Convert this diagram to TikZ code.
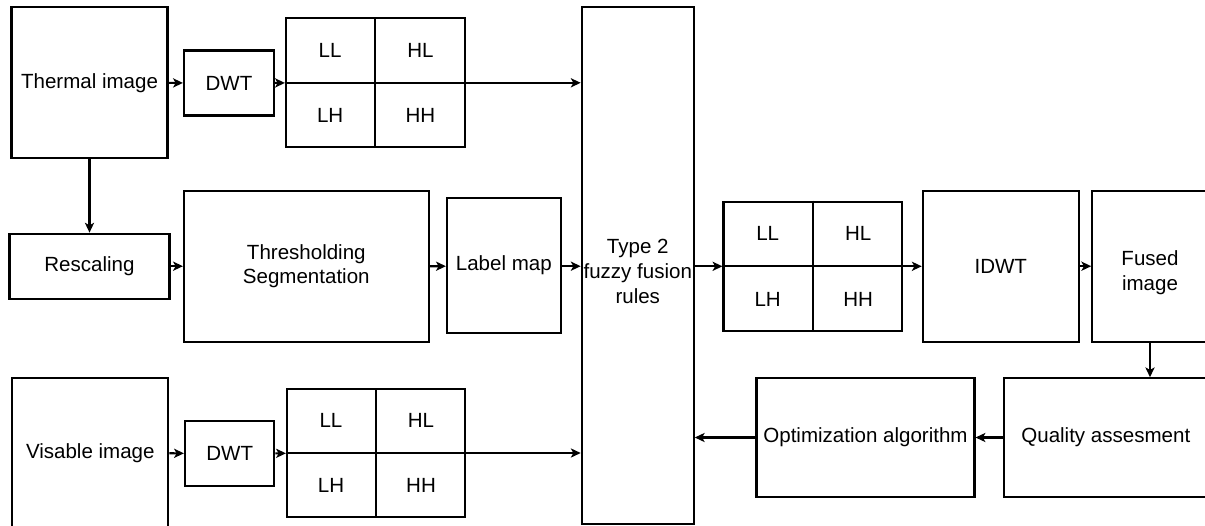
\documentclass[tikz,border=0pt]{standalone}
\usepackage{fontspec}
\setmainfont{Liberation Sans}
\usetikzlibrary{arrows.meta,calc}
\newdimen\pxu \pxu=0.025cm
\begin{document}
\begin{tikzpicture}[x=0.025cm,y=-0.025cm,
  box/.style={draw,line width=1.5pt,inner sep=0pt,align=center,font=\fontsize{14.6}{17.4}\selectfont},
  txt/.style={inner sep=0pt,align=center,font=\fontsize{14.6}{17.6}\selectfont},
  cell/.style={inner sep=0pt,font=\fontsize{14.6}{17.4}\selectfont},
  ln/.style={line width=1.5pt},
  arr/.style={line width=1.5pt,-{Stealth[length=7pt,width=6.5pt,inset=1.8pt]}}]
\useasboundingbox (0,0) rectangle (1205,526);

% row 1
\node[box,minimum width=156\pxu,minimum height=151\pxu] (thermal) at (89.5,82.8) {Thermal image};
\node[box,minimum width=90\pxu,minimum height=65\pxu] (dwta) at (229,83) {DWT};
\node[box,minimum width=178.6\pxu,minimum height=129\pxu] (grida) at (375.3,82.8) {};

% row 2
\node[box,minimum width=160\pxu,minimum height=65\pxu] (rescale) at (89.5,266.2) {Rescaling};
\node[box,minimum width=244.6\pxu,minimum height=150.5\pxu] (thresh) at (306.3,266.4) {Thresholding\\Segmentation};
\node[box,minimum width=113.7\pxu,minimum height=135.6\pxu] (labelmap) at (503.8,265.5) {Label map};
\node[box,minimum width=112\pxu,minimum height=516.7\pxu] (fuzzy) at (637.75,265.65) {};
\node[txt] (fuzzytext) at ($(fuzzy.center)+(0,6)$) {Type 2\\fuzzy fusion\\rules};
\node[box,minimum width=178.8\pxu,minimum height=129.3\pxu] (gridc) at (812.9,266.3) {};
\node[box,minimum width=156\pxu,minimum height=151\pxu] (idwt) at (1000.8,266.2) {IDWT};
\node[box,minimum width=115.4\pxu,minimum height=151\pxu] (fused) at (1150,266.2) {};
\node[txt] (fusedtext) at ($(fused.center)+(0,6.5)$) {Fused\\image};

% row 3
\node[box,minimum width=156\pxu,minimum height=149.4\pxu] (visable) at (90.3,453) {Visable image};
\node[box,minimum width=89.4\pxu,minimum height=65\pxu] (dwtb) at (229.7,453.5) {DWT};
\node[box,minimum width=178\pxu,minimum height=127.4\pxu] (gridb) at (376,453) {};
\node[box,minimum width=218\pxu,minimum height=118.4\pxu] (opt) at (865.5,437.5) {Optimization algorithm};
\node[box,minimum width=203.6\pxu,minimum height=118.4\pxu] (quality) at (1105.8,437.5) {Quality assesment};

% grid internals
\foreach \g in {grida,gridb,gridc}{
  \draw[ln] (\g.north) -- (\g.south);
  \draw[ln] (\g.west) -- (\g.east);
  \node[cell] (\g-ll) at ($(\g.center)!0.5!(\g.north west)$) {LL};
  \node[cell] (\g-hl) at ($(\g.center)!0.5!(\g.north east)$) {HL};
  \node[cell] (\g-lh) at ($(\g.center)!0.5!(\g.south west)$) {LH};
  \node[cell] (\g-hh) at ($(\g.center)!0.5!(\g.south east)$) {HH};
}

% connectors
\draw[arr] (thermal) -- (dwta);
\draw[arr] (dwta) -- (grida);
\draw[arr] (grida.east) -- (grida.east -| fuzzy.west);
\draw[arr] (thermal) -- (rescale);
\draw[arr] (rescale) -- (rescale.east -| thresh.west);
\draw[arr] (thresh) -- (thresh.east |- rescale.east -| labelmap.west);
\draw[arr] (labelmap.east |- rescale.east) -- (rescale.east -| fuzzy.west);
\draw[arr] (visable) -- (dwtb);
\draw[arr] (dwtb) -- (gridb);
\draw[arr] (gridb.east) -- (gridb.east -| fuzzy.west);
\draw[arr] (fuzzy.east |- gridc.west) -- (gridc.west);
\draw[arr] (gridc.east) -- (gridc.east -| idwt.west);
\draw[arr] (idwt) -- (fused);
\draw[arr] (fused) -- (fused.south |- quality.north);
\draw[arr] (quality.west) -- (opt.east |- quality.west);
\draw[arr] (opt.west) -- (fuzzy.east |- opt.west);
\end{tikzpicture}
\end{document}
